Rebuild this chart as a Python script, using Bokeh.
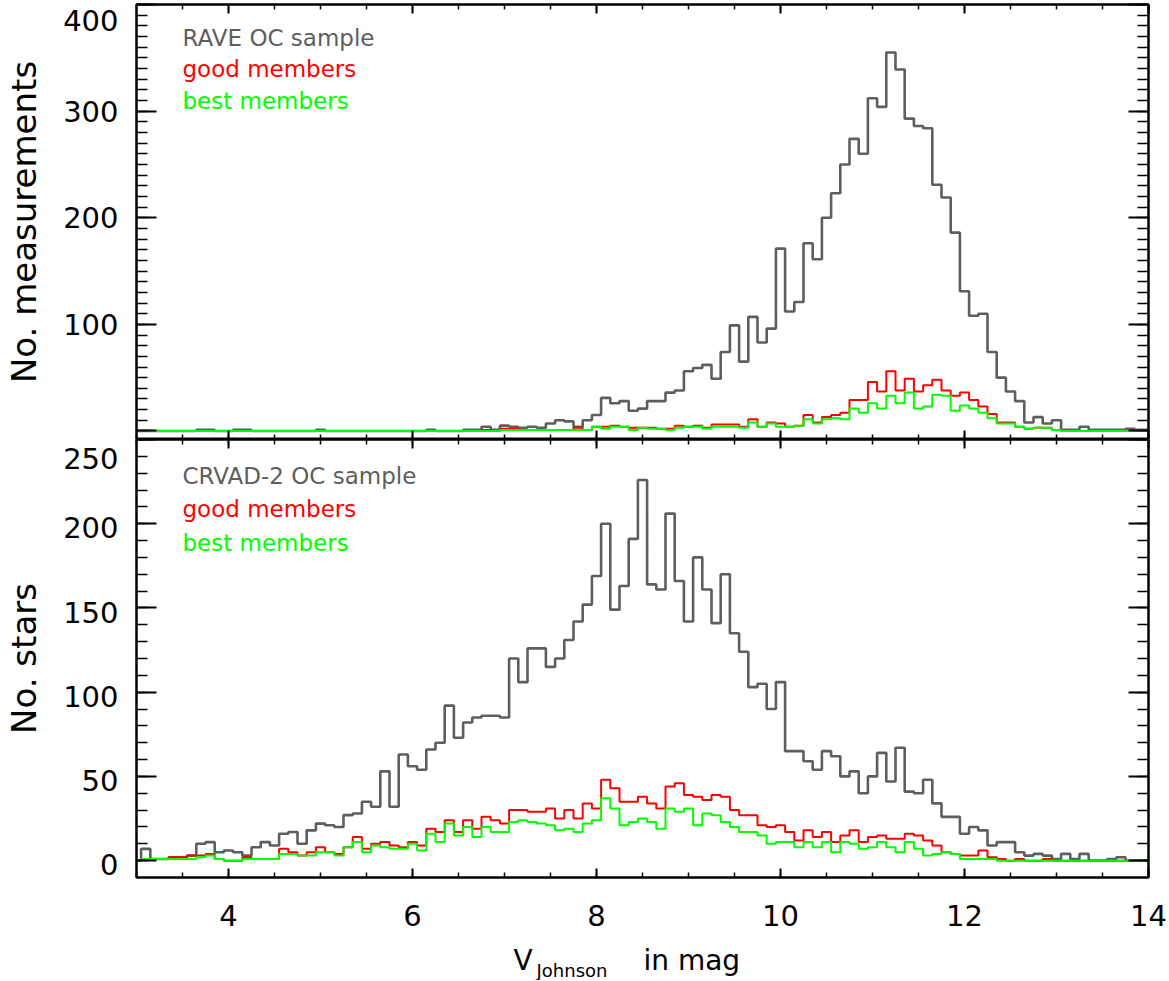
import numpy as np
from bokeh.plotting import figure
from bokeh.models import (Range1d, LinearAxis, FixedTicker, Label,
                          CustomJSTickFormatter, ColumnDataSource)
from bokeh.layouts import column
from bokeh.embed import file_html
from bokeh.resources import INLINE

# ---------------- data (bin centres in V mag, bin width 0.1) ----------------
mag = [round(3.0 + 0.1 * i, 1) for i in range(111)]

rave_all = [
    0, 0, 0, 0, 0, 0, 0, 1, 1, 0,
    0, 1, 1, 0, 0, 0, 0, 0, 0, 0,
    1, 0, 0, 0, 0, 0, 0, 0, 0, 0,
    0, 0, 1, 0, 0, 0, 1, 1, 4, 1,
    5, 4, 3, 4, 3, 7, 10, 9, 4, 10,
    15, 31, 26, 28, 19, 21, 28, 28, 36, 38,
    56, 59, 62, 49, 74, 99, 65, 107, 83, 96,
    171, 112, 121, 176, 161, 200, 223, 250, 274, 260,
    312, 304, 355, 339, 293, 286, 284, 231, 219, 186,
    131, 108, 110, 74, 50, 37, 28, 8, 13, 7,
    10, 1, 1, 4, 1, 1, 1, 1, 2, 1,
    1]
rave_good = [
    0, 0, 0, 0, 0, 0, 0, 0, 0, 0,
    0, 0, 0, 0, 0, 0, 0, 0, 0, 0,
    0, 0, 0, 0, 0, 0, 0, 0, 0, 0,
    0, 0, 0, 0, 0, 0, 0, 0, 1, 0,
    2, 2, 1, 1, 1, 1, 1, 1, 3, 1,
    4, 4, 5, 4, 3, 3, 3, 2, 2, 5,
    4, 5, 3, 6, 6, 6, 4, 11, 4, 8,
    7, 4, 5, 15, 8, 13, 15, 17, 29, 29,
    46, 37, 56, 38, 49, 37, 43, 48, 38, 33,
    36, 29, 23, 16, 8, 8, 4, 2, 3, 3,
    1, 0, 0, 0, 0, 0, 0, 0, 0, 0,
    0]
rave_best = [
    0, 0, 0, 0, 0, 0, 0, 0, 0, 0,
    0, 0, 0, 0, 0, 0, 0, 0, 0, 0,
    0, 0, 0, 0, 0, 0, 0, 0, 0, 0,
    0, 0, 0, 0, 0, 0, 0, 0, 0, 0,
    1, 1, 1, 1, 1, 1, 1, 1, 1, 1,
    4, 2, 4, 4, 1, 3, 2, 2, 1, 3,
    4, 4, 2, 4, 4, 4, 3, 8, 4, 7,
    4, 4, 5, 11, 7, 11, 12, 11, 21, 17,
    26, 21, 33, 26, 36, 21, 23, 34, 33, 19,
    24, 21, 17, 12, 7, 7, 4, 2, 3, 3,
    1, 0, 0, 0, 0, 0, 0, 0, 0, 0,
    0]

crvad_all = [
    0, 7, 1, 1, 2, 2, 3, 10, 11, 5,
    6, 5, 3, 8, 11, 9, 16, 17, 10, 18,
    22, 21, 20, 27, 28, 35, 32, 53, 32, 63,
    56, 54, 66, 70, 92, 73, 82, 85, 86, 86,
    85, 120, 106, 126, 126, 115, 120, 131, 142, 152,
    169, 200, 149, 163, 191, 226, 164, 161, 206, 166,
    142, 180, 161, 141, 170, 135, 124, 103, 105, 90,
    106, 65, 65, 59, 54, 65, 62, 50, 53, 40,
    50, 64, 47, 67, 41, 40, 48, 34, 26, 26,
    16, 20, 18, 9, 11, 11, 5, 3, 4, 3,
    1, 4, 1, 4, 0, 0, 1, 2, 0, 0,
    0]
crvad_good = [
    0, 1, 1, 1, 2, 2, 3, 3, 4, 1,
    0, 0, 2, 1, 1, 1, 7, 5, 3, 5,
    8, 5, 4, 8, 14, 7, 10, 11, 9, 8,
    11, 9, 19, 17, 24, 17, 24, 19, 26, 24,
    22, 30, 30, 29, 29, 31, 25, 30, 25, 34,
    31, 48, 43, 35, 35, 38, 34, 31, 44, 46,
    39, 38, 36, 39, 38, 30, 27, 27, 21, 20,
    21, 17, 12, 18, 14, 17, 11, 15, 18, 11,
    14, 15, 13, 13, 16, 15, 12, 9, 5, 4,
    3, 3, 6, 2, 1, 0, 1, 0, 0, 1,
    0, 0, 0, 0, 0, 0, 0, 0, 0, 0,
    0]
crvad_best = [
    0, 1, 1, 1, 1, 1, 1, 2, 3, 1,
    0, 0, 1, 1, 1, 1, 4, 4, 3, 3,
    5, 5, 3, 8, 11, 5, 9, 8, 7, 7,
    10, 6, 16, 11, 22, 15, 20, 14, 20, 17,
    17, 23, 24, 23, 22, 21, 18, 19, 17, 22,
    24, 37, 31, 21, 23, 25, 23, 19, 31, 29,
    31, 21, 28, 27, 23, 20, 17, 17, 15, 10,
    11, 11, 8, 11, 8, 11, 5, 11, 10, 7,
    8, 11, 8, 5, 11, 7, 3, 4, 5, 4,
    1, 1, 1, 1, 0, 0, 0, 0, 0, 0,
    0, 0, 0, 0, 0, 0, 0, 0, 0, 0,
    0]

x_major = [4, 6, 8, 10, 12, 14]
x_minor = [3 + 0.5 * i for i in range(23)]
top_major = [0, 100, 200, 300, 400]
top_minor = list(range(0, 401, 10))
top_tick_labels = ["100", "200", "300", "400"]
bot_major = [0, 50, 100, 150, 200, 250]
bot_minor = list(range(0, 251, 10))
bot_tick_labels = ["0", "50", "100", "150", "200", "250"]

top_legend = ["RAVE OC sample", "good members", "best members"]
bot_legend = ["CRVAD-2 OC sample", "good members", "best members"]
x_title = ["V", "Johnson", "in mag"]

GRAY, RED, GREEN = "#5e5e5e", "#ff0000", "#00ff00"
FONT = "DejaVu Sans"
W = 1168


def tick_axis(ax, ticks, minor, tin, mtin):
    """Axis line + inward ticks, no labels."""
    ax.ticker = FixedTicker(ticks=ticks, minor_ticks=minor)
    ax.axis_line_color = "black"
    ax.axis_line_width = 2
    ax.major_tick_line_width = 2
    ax.minor_tick_line_width = 1.5
    ax.major_tick_in = tin
    ax.major_tick_out = 0
    ax.minor_tick_in = mtin
    ax.minor_tick_out = 0
    ax.formatter = CustomJSTickFormatter(code="return ''")
    ax.major_label_text_font_size = "1px"
    ax.major_label_text_color = None
    ax.major_label_standoff = 0


def label_axis(ax, pos, labels, standoff, fs="29px"):
    """Labels only (IDL style: labels sit slightly below their ticks)."""
    ax.ticker = FixedTicker(ticks=pos, minor_ticks=[])
    ax.major_label_overrides = {p: t for p, t in zip(pos, labels)}
    ax.axis_line_color = None
    ax.major_tick_line_color = None
    ax.minor_tick_line_color = None
    ax.major_tick_in = 0
    ax.major_tick_out = 0
    ax.minor_tick_in = 0
    ax.minor_tick_out = 0
    ax.major_label_text_font = FONT
    ax.major_label_text_font_size = fs
    ax.major_label_text_color = "black"
    ax.major_label_standoff = standoff


def ylabel(ax, text):
    ax.axis_label = text
    ax.axis_label_text_font = FONT
    ax.axis_label_text_font_size = "34px"
    ax.axis_label_text_font_style = "normal"
    ax.axis_label_text_color = "black"
    ax.axis_label_standoff = 16


def make_fig(height, yr, border_top, border_bottom):
    p = figure(width=W, height=height, x_range=Range1d(3, 14), y_range=yr,
               output_backend="svg", toolbar_location=None,
               min_border_left=136, min_border_right=W - 1148,
               min_border_top=border_top, min_border_bottom=border_bottom)
    p.xgrid.visible = False
    p.ygrid.visible = False
    p.outline_line_color = "black"
    p.outline_line_width = 2
    p.background_fill_color = "white"
    p.border_fill_color = "white"
    return p


# ---------------- top panel ----------------
top = make_fig(439, Range1d(-8, 400), 4, 0)
tick_axis(top.xaxis[0], x_major, x_minor, 9, 5)
tick_axis(top.yaxis[0], top_major, top_minor, 20, 11)
ax = LinearAxis(); tick_axis(ax, x_major, x_minor, 9, 5); top.add_layout(ax, "above")
ax = LinearAxis(); tick_axis(ax, top_major, top_minor, 20, 11); top.add_layout(ax, "right")
ax = LinearAxis()
label_axis(ax, [100, 200, 300, 385], top_tick_labels, 18)
ylabel(ax, "No. measurements")
top.add_layout(ax, "left")

src_top = ColumnDataSource(dict(x=mag, a=rave_all, g=rave_good, b=rave_best))
top.step("x", "a", source=src_top, mode="center", line_color=GRAY, line_width=2.6)
top.step("x", "g", source=src_top, mode="center", line_color=RED, line_width=2)
top.step("x", "b", source=src_top, mode="center", line_color=GREEN, line_width=2)

for txt, col, yy in zip(top_legend, [GRAY, RED, GREEN], [402, 371, 339]):
    top.add_layout(Label(x=46, y=yy, x_units="screen", y_units="screen", text=txt,
                         text_color=col, text_font=FONT, text_font_size="23px",
                         text_baseline="alphabetic", text_align="left"))

# ---------------- bottom panel ----------------
bot = make_fig(496, Range1d(-10, 250), 0, 58)
tick_axis(bot.xaxis[0], x_major, x_minor, 9, 5)
bot.xaxis[0].formatter = CustomJSTickFormatter(code="return String(tick)")
bot.xaxis[0].major_label_text_color = "black"
bot.xaxis[0].major_label_text_font = FONT
bot.xaxis[0].major_label_text_font_size = "29px"
bot.xaxis[0].major_label_standoff = 27
tick_axis(bot.yaxis[0], bot_major, bot_minor, 20, 11)
ax = LinearAxis(); tick_axis(ax, x_major, x_minor, 9, 5); bot.add_layout(ax, "above")
ax = LinearAxis(); tick_axis(ax, bot_major, bot_minor, 20, 11); bot.add_layout(ax, "right")
ax = LinearAxis()
label_axis(ax, [-2.5, 47.5, 97.5, 147.5, 197.5, 239], bot_tick_labels, 18)
ylabel(ax, "No. stars")
bot.add_layout(ax, "left")

src_bot = ColumnDataSource(dict(x=mag, a=crvad_all, g=crvad_good, b=crvad_best))
bot.step("x", "a", source=src_bot, mode="center", line_color=GRAY, line_width=2.6)
bot.step("x", "g", source=src_bot, mode="center", line_color=RED, line_width=2)
bot.step("x", "b", source=src_bot, mode="center", line_color=GREEN, line_width=2)

for txt, col, yy in zip(bot_legend, [GRAY, RED, GREEN], [402, 369, 335]):
    bot.add_layout(Label(x=46, y=yy, x_units="screen", y_units="screen", text=txt,
                         text_color=col, text_font=FONT, text_font_size="23px",
                         text_baseline="alphabetic", text_align="left"))

# ---------------- x-axis title strip (V with subscript) ----------------
xt = figure(width=W, height=45, x_range=Range1d(0, 1), y_range=Range1d(0, 1),
            output_backend="svg", toolbar_location=None,
            min_border_left=0, min_border_right=0, min_border_top=0, min_border_bottom=0,
            x_axis_type=None, y_axis_type=None)
xt.outline_line_color = None
xt.background_fill_color = "white"
xt.border_fill_color = "white"
for txt, xx, yy, fs in zip(x_title, [377, 400, 507], [20, 10, 20], ["28px", "18px", "28px"]):
    xt.add_layout(Label(x=xx, y=yy, x_units="screen", y_units="screen", text=txt,
                        text_font=FONT, text_font_size=fs, text_color="black",
                        text_baseline="alphabetic", text_align="left"))

layout = column(top, bot, xt, spacing=0)
open("out.html", "w").write(file_html(layout, INLINE))
